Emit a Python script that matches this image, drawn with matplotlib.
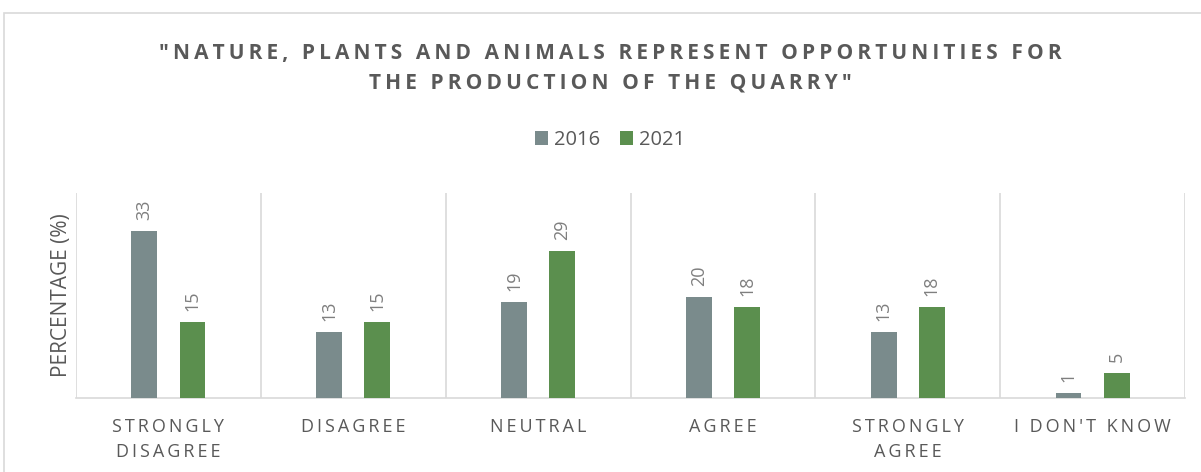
import matplotlib.pyplot as plt
import matplotlib.patches as patches
import numpy as np

plt.rcParams['font.family'] = ['Open Sans', 'DejaVu Sans']

categories = ['STRONGLY\nDISAGREE', 'DISAGREE', 'NEUTRAL', 'AGREE', 'STRONGLY\nAGREE', "I DON'T KNOW"]
series_names = ['2016', '2021']
values_2016 = [33, 13, 19, 20, 13, 1]
values_2021 = [15, 15, 29, 18, 18, 5]
title = '"NATURE, PLANTS AND ANIMALS REPRESENT OPPORTUNITIES FOR\nTHE PRODUCTION OF THE QUARRY"'

colors = ['#7A8B8C', '#5B8F4E']
text_col = '#595959'
grid_col = '#D9D9D9'


def spaced(s, sep='\u2009'):
    # fake letter spacing with thin spaces
    return '\n'.join(sep.join(line) for line in s.split('\n'))


fig = plt.figure(figsize=(12.01, 4.72), dpi=100)
fig.patch.set_facecolor('white')

# chart border (cut off at right / bottom)
fig.patches.append(patches.Rectangle((4 / 1201, -0.1), 1.2, 1 - 13 / 472 + 0.1,
                                     transform=fig.transFigure, fill=False,
                                     edgecolor=grid_col, linewidth=1.2))

ax = fig.add_axes([76 / 1201, 1 - 398 / 472, (1185 - 76) / 1201, (398 - 193) / 472])

x = np.arange(len(categories))
w = 0.14
off = 0.13
ax.bar(x - off, values_2016, w, color=colors[0], label=series_names[0], zorder=3)
ax.bar(x + off, values_2021, w, color=colors[1], label=series_names[1], zorder=3)

for xs, vals in [(x - off, values_2016), (x + off, values_2021)]:
    for xi, v in zip(xs, vals):
        ax.annotate(str(v), (xi, v), xytext=(0, 8), textcoords='offset points',
                    rotation=90, ha='center', va='bottom', fontsize=13, color='#7F7F7F')

ax.set_xlim(-0.5, len(categories) - 0.5)
ax.set_ylim(0, 40.5)
ax.set_yticks([])
ax.set_xticks([])
for b in np.arange(-0.5, len(categories), 1.0):
    ax.axvline(b, color=grid_col, linewidth=1.2, zorder=1)
for s in ['top', 'right', 'left']:
    ax.spines[s].set_visible(False)
ax.spines['bottom'].set_color(grid_col)
ax.spines['bottom'].set_linewidth(1.2)

for xi, cat in zip(x, categories):
    ax.text(xi, -4.0, spaced(cat), ha='center', va='top', fontsize=13,
            color=text_col, linespacing=1.5)

ax.set_ylabel('PERCENTAGE (%)', fontsize=15, color=text_col, labelpad=3)

fig.text(0.508, 1 - 68 / 472, spaced(title), ha='center', va='center',
         fontsize=15, fontweight='bold', color=text_col, linespacing=1.55)

fig.legend(loc='center', bbox_to_anchor=(0.508, 1 - 140 / 472), ncol=2, frameon=False,
           fontsize=14.5, handlelength=0.65, handleheight=0.65, handletextpad=0.3,
           columnspacing=1.0, labelcolor=text_col)

fig.savefig('out.png', dpi=100)
